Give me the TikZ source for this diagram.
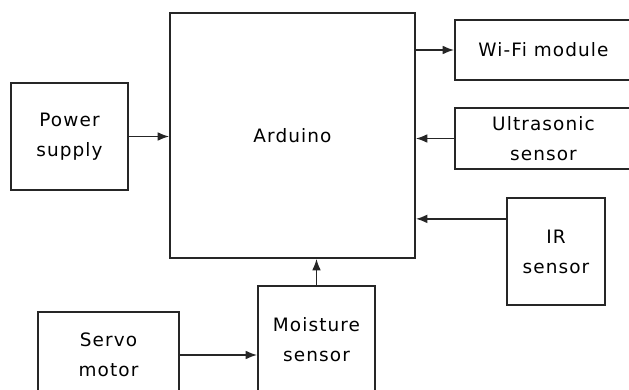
\documentclass[tikz,border=0pt]{standalone}
\usepackage{fontspec}
\setmainfont{DejaVu Sans}[LetterSpace=6.0]
\usepackage{tikz}
\usetikzlibrary{arrows.meta,calc}

\begin{document}
\begin{tikzpicture}[x=0.02cm,y=-0.02cm,>={Latex[length=6.5pt,width=5pt]},
  font=\fontsize{10.5}{17}\selectfont,
  block/.style={draw=black!85,line width=1pt,align=center,inner sep=0pt},
  link/.style={->,draw=black!85,line width=1pt}]
  \path[use as bounding box,clip] (0,0) rectangle (629,389);
  % blocks
  \node[block,minimum width=4.9cm,minimum height=4.9cm] (ard) at (292.5,135.5) {Arduino};
  \node[block,minimum width=2.34cm,minimum height=2.14cm] (power) at (69.5,136.5) {Power\\supply};
  \node[block,minimum width=3.54cm,minimum height=1.2cm] (wifi) at (543.5,50) {Wi-Fi module};
  \node[block,minimum width=3.54cm,minimum height=1.22cm] (ultra) at (543.5,138.5) {Ultrasonic\\sensor};
  \node[block,minimum width=1.96cm,minimum height=2.14cm] (ir) at (556,251.5) {IR\\sensor};
  \node[block,minimum width=2.34cm,minimum height=2.14cm] (moist) at (316.5,339.5) {Moisture\\sensor};
  \node[block,minimum width=2.82cm,minimum height=1.72cm] (servo) at (108.5,355) {Servo\\motor};
  % connections
  \coordinate (irout) at ($(ir.north west)!0.2!(ir.south west)$);
  \draw[link] (power.east) -- (power.east -| ard.west);
  \draw[link] (wifi.west -| ard.east) -- (wifi.west);
  \draw[link] (ultra.west) -- (ultra.west -| ard.east);
  \draw[link] (irout) -- (irout -| ard.east);
  \draw[link] (moist.north) -- (moist.north |- ard.south);
  \draw[link] (servo.east) -- (servo.east -| moist.west);
\end{tikzpicture}
\end{document}
